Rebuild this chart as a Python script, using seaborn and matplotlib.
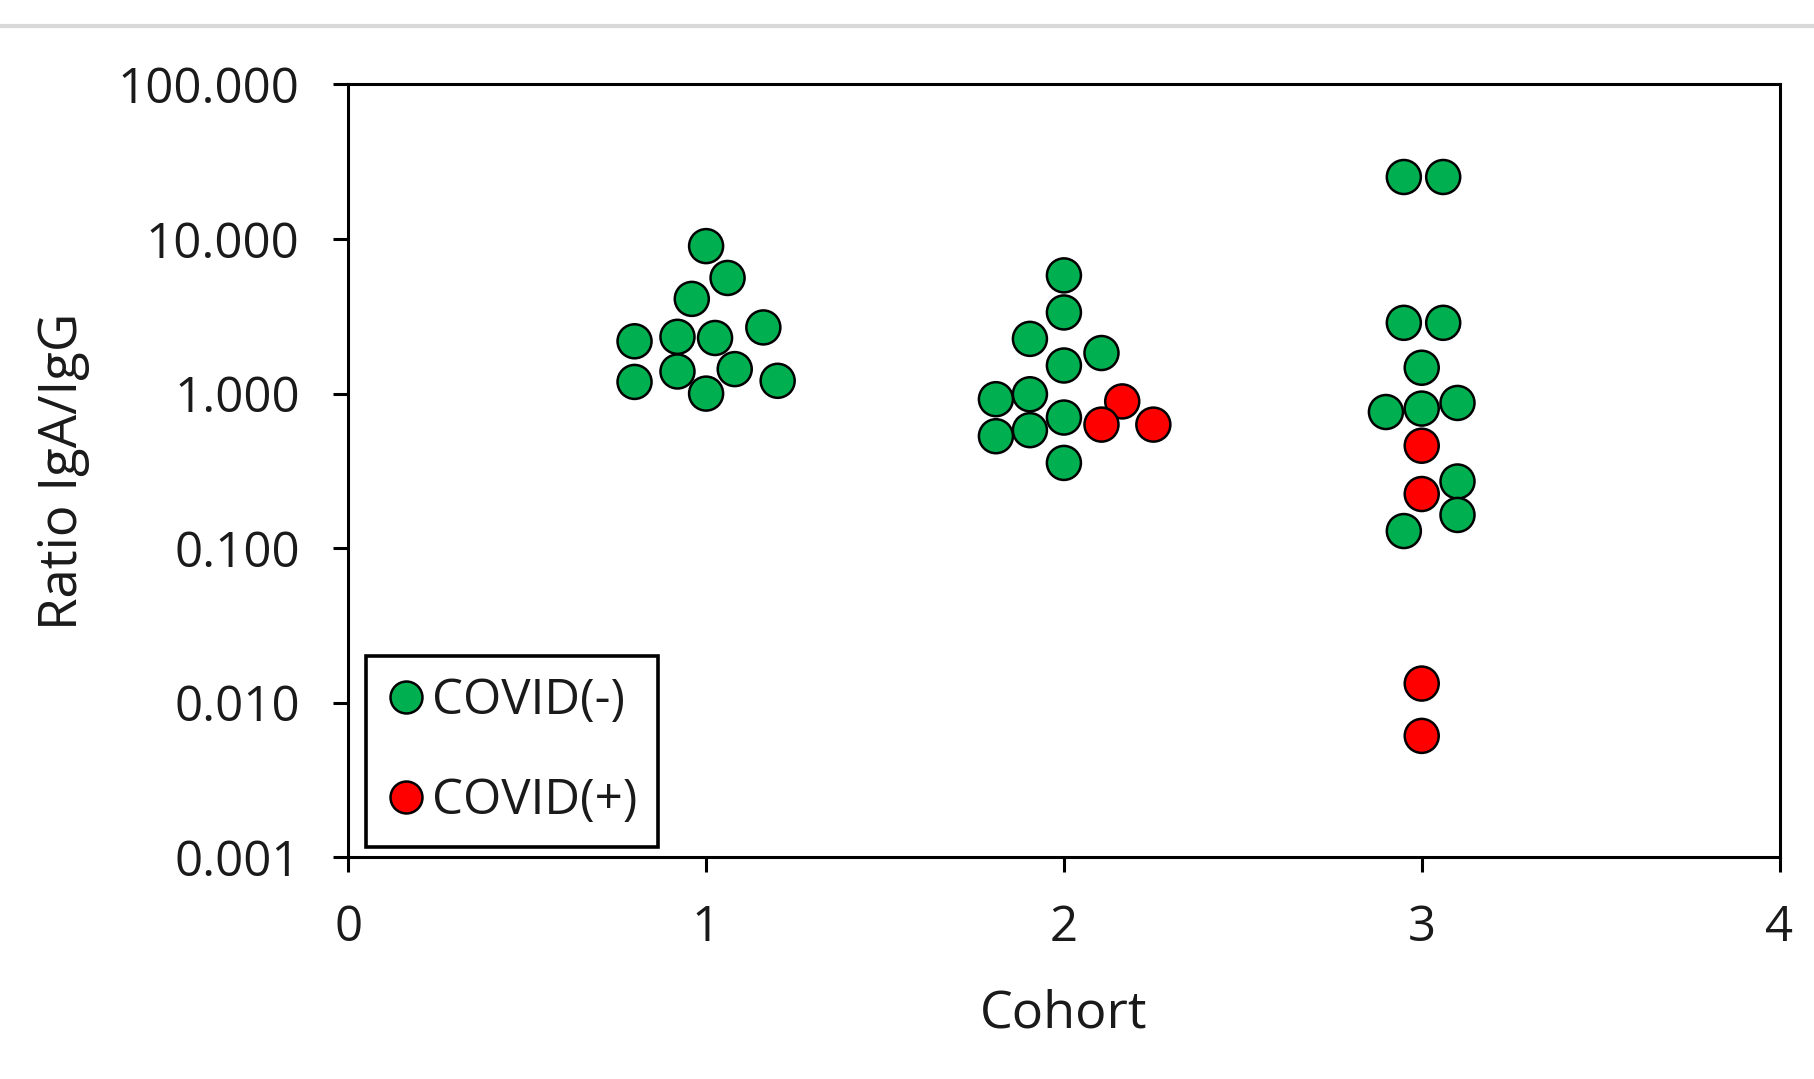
import matplotlib
matplotlib.use("Agg")
import matplotlib.pyplot as plt
import matplotlib.ticker as mticker
from matplotlib.lines import Line2D
import seaborn as sns
import pandas as pd

# ---- data ----
cohort_x = [1.00, 1.06, 0.96, 0.80, 0.92, 1.025, 1.16, 0.80, 0.92, 1.08, 1.00, 1.20,
            2.00, 2.00, 1.905, 2.105, 2.00, 1.81, 1.905, 1.81, 1.905, 2.00, 2.00,
            2.163, 2.105, 2.25,
            2.95, 3.06, 2.95, 3.06, 3.00, 2.90, 3.00, 3.10,
            3.00, 3.00, 3.00, 3.00,
            3.10, 3.10, 2.95]
ratio = [9.0, 5.6, 4.1, 2.18, 2.33, 2.29, 2.68, 1.19, 1.39, 1.44, 1.00, 1.21,
         5.82, 3.35, 2.26, 1.83, 1.52, 0.92, 0.99, 0.53, 0.58, 0.70, 0.356,
         0.89, 0.63, 0.63,
         25.2, 25.2, 2.87, 2.87, 1.47, 0.76, 0.80, 0.87,
         0.46, 0.224, 0.0133, 0.0061,
         0.27, 0.164, 0.129]
status = (["COVID(-)"] * 12 + ["COVID(-)"] * 11 + ["COVID(+)"] * 3 +
          ["COVID(-)"] * 8 + ["COVID(+)"] * 4 + ["COVID(-)"] * 3)
groups = ["COVID(-)", "COVID(+)"]
colors = {"COVID(-)": "#00B050", "COVID(+)": "#FF0000"}
y_ticks = [0.001, 0.01, 0.1, 1, 10, 100]
x_ticks = [0, 1, 2, 3, 4]

df = pd.DataFrame({"Cohort": cohort_x, "Ratio": ratio, "Status": status})

sns.set_style("white")
plt.rcParams["font.family"] = ["Open Sans", "DejaVu Sans"]
TXT = "#1a1a1a"

fig = plt.figure(figsize=(18.14, 10.79), dpi=100)
ax = fig.add_axes([0.192, 0.2055, 0.789, 0.7162])

sns.scatterplot(data=df, x="Cohort", y="Ratio", hue="Status", hue_order=groups,
                palette=colors, s=600, edgecolor="black", linewidth=1.8,
                ax=ax, legend=False, zorder=3)

ax.set_yscale("log")
ax.set_ylim(0.001, 100)
ax.set_xlim(0, 4)
ax.yaxis.set_major_locator(mticker.FixedLocator(y_ticks))
ax.yaxis.set_minor_locator(mticker.NullLocator())
ax.yaxis.set_major_formatter(mticker.FuncFormatter(lambda v, p: f"{v:.3f}"))
ax.set_xticks(x_ticks)
ax.set_xticklabels([str(t) for t in x_ticks])

for sp in ax.spines.values():
    sp.set_visible(True)
    sp.set_color("black")
    sp.set_linewidth(2.2)

ax.tick_params(axis="y", which="major", direction="out", length=11, width=2.2,
               pad=24, labelsize=35.5, colors="black", labelcolor=TXT, left=True)
ax.tick_params(axis="x", which="major", direction="out", length=11, width=2.2,
               pad=22, labelsize=35.5, colors="black", labelcolor=TXT, bottom=True)

ax.set_xlabel("Cohort", fontsize=37.5, labelpad=26, color=TXT)
ax.set_ylabel("Ratio IgA/IgG", fontsize=38, labelpad=20, color=TXT)

handles = [Line2D([0], [0], marker="o", linestyle="none", markersize=23,
                  markerfacecolor=colors[g], markeredgecolor="black",
                  markeredgewidth=1.8) for g in groups]
leg = ax.legend(handles, groups, loc="lower left", bbox_to_anchor=(0.0122, 0.0133),
                borderaxespad=0, fontsize=35.5, frameon=True, fancybox=False,
                framealpha=1, handlelength=0.8, handletextpad=0.12,
                labelspacing=1.02, borderpad=0.42)
for t in leg.get_texts():
    t.set_color(TXT)
leg.get_frame().set_edgecolor("black")
leg.get_frame().set_linewidth(2.6)
leg.set_zorder(5)

fig.add_artist(Line2D([0, 1], [0.976, 0.976], color="#D9D9D9", linewidth=3,
                      transform=fig.transFigure))

fig.savefig("out.png", dpi=100, facecolor="white")
